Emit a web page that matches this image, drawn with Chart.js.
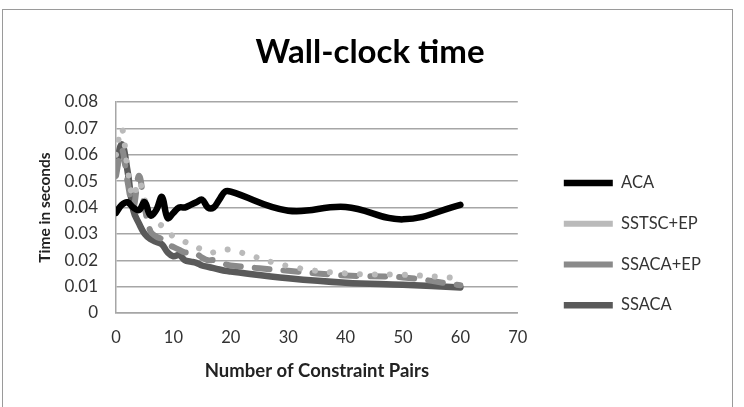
<!DOCTYPE html>
<html>
<head>
<meta charset="utf-8">
<script src="https://cdn.jsdelivr.net/npm/chart.js@4"></script>
<style>
  body { margin: 0; background: #fff; }
  .frame { position: absolute; left: 2px; top: 9px; width: 729px; height: 420px; border: 1.5px solid #9a9a9a; }
  #wallClockChart { position: absolute; left: 0; top: 0; }
</style>
</head>
<body>
<div class="frame"></div>
<canvas id="wallClockChart" width="744" height="407"></canvas>
<script>
// number of constraint pairs (x)
const pairs = [0, 1, 2, 3, 4, 5, 6, 7, 8, 9, 10, 11, 12, 13, 14, 15, 16, 17, 18, 19, 20, 30, 40, 50, 60];

// time in seconds
const aca      = [0.038, 0.041, 0.042, 0.040, 0.039, 0.042, 0.037, 0.039, 0.044, 0.036, 0.038, 0.040, 0.040, 0.041, 0.042, 0.043, 0.040, 0.040, 0.043, 0.046, 0.046, 0.0388, 0.0402, 0.0355, 0.041];
const sstscEp  = [0.060, 0.070, 0.055, 0.044, 0.050, 0.043, 0.038, 0.035, 0.033, 0.031, 0.029, 0.028, 0.027, 0.026, 0.025, 0.024, 0.023, 0.023, 0.024, 0.024, 0.024, 0.0178, 0.0150, 0.0145, 0.0132];
const ssacaEp  = [0.052, 0.062, 0.050, 0.040, 0.052, 0.040, 0.031, 0.029, 0.028, 0.026, 0.025, 0.024, 0.023, 0.023, 0.0225, 0.021, 0.020, 0.020, 0.019, 0.0185, 0.018, 0.0160, 0.0142, 0.0135, 0.0105];
const ssaca    = [0.054, 0.064, 0.054, 0.039, 0.034, 0.030, 0.028, 0.027, 0.026, 0.023, 0.0215, 0.022, 0.020, 0.0195, 0.019, 0.018, 0.0175, 0.017, 0.0165, 0.016, 0.0157, 0.0132, 0.0115, 0.0107, 0.0097];

const xTickLabels = ['0', '10', '20', '30', '40', '50', '60', '70'];
const yTickLabels = ['0', '0.01', '0.02', '0.03', '0.04', '0.05', '0.06', '0.07', '0.08'];

const toPoints = ys => ys.map((y, i) => ({ x: pairs[i], y: y }));

const FONT = 'Lato, "Open Sans", sans-serif';
const GRID = '#a6a6a6';

const ctx = document.getElementById('wallClockChart').getContext('2d');
new Chart(ctx, {
    type: 'line',
    data: {
        datasets: [{
            label: 'ACA',
            data: toPoints(aca),
            borderColor: '#000000',
            borderWidth: 6.5
        }, {
            label: 'SSTSC+EP',
            data: toPoints(sstscEp),
            borderColor: '#bababa',
            borderWidth: 6,
            borderDash: [0.01, 15]
        }, {
            label: 'SSACA+EP',
            data: toPoints(ssacaEp),
            borderColor: '#8a8a8a',
            borderWidth: 6,
            borderDash: [15, 14]
        }, {
            label: 'SSACA',
            data: toPoints(ssaca),
            borderColor: '#5a5a5a',
            borderWidth: 6.5
        }]
    },
    options: {
        responsive: false,
        animation: false,
        devicePixelRatio: 1,
        datasets: {
            line: {
                tension: 0.4,
                pointRadius: 0,
                borderCapStyle: 'round',
                borderJoinStyle: 'round',
                fill: false
            }
        },
        layout: {
            padding: { top: 10, left: 29.2, right: 33.2, bottom: 24 }
        },
        plugins: {
            title: {
                display: true,
                text: 'Wall-clock time',
                color: '#000',
                font: { family: FONT, size: 33, weight: 'bold' },
                padding: { top: 22.2, bottom: 30.2 }
            },
            legend: {
                position: 'right',
                align: 'start',
                maxWidth: 220,
                title: {
                    display: true,
                    text: '',
                    font: { family: FONT, size: 13 },
                    padding: { top: 62.5, bottom: 62.5 }
                },
                labels: {
                    usePointStyle: true,
                    pointStyle: 'line',
                    pointStyleWidth: 49,
                    padding: 24.2,
                    color: '#333',
                    font: { family: FONT, size: 16.5 }
                }
            },
            tooltip: { enabled: false }
        },
        scales: {
            x: {
                type: 'linear',
                min: 0,
                max: 70,
                grid: { display: false, drawTicks: false },
                border: { display: true, color: GRID, width: 1.5 },
                ticks: {
                    stepSize: 10,
                    padding: 14.4,
                    color: '#333',
                    font: { family: FONT, size: 16.5 },
                    callback: (v, i) => xTickLabels[i]
                },
                title: {
                    display: true,
                    text: 'Number of Constraint Pairs',
                    color: '#222',
                    font: { family: FONT, size: 18.5, weight: 'bold' },
                    padding: { top: 10, bottom: 1 }
                },
                afterFit: s => { s.height = 70; }
            },
            y: {
                min: 0,
                max: 0.08,
                grid: { color: GRID, lineWidth: 1.5, drawTicks: false },
                border: { display: true, color: GRID, width: 1.5 },
                ticks: {
                    stepSize: 0.01,
                    padding: 18,
                    color: '#333',
                    font: { family: FONT, size: 17 },
                    callback: (v, i) => yTickLabels[i]
                },
                title: {
                    display: true,
                    text: 'Time in seconds',
                    color: '#222',
                    font: { family: FONT, size: 15.5, weight: 'bold' },
                    padding: { top: 6.5, bottom: 4 }
                },
                afterFit: s => { s.width = 86.8; }
            },
            gap: {
                type: 'linear',
                position: 'right',
                display: true,
                grid: { display: false, drawTicks: false },
                border: { display: false },
                ticks: { display: false },
                afterFit: s => { s.width = 21.8; }
            }
        }
    }
});
</script>
</body>
</html>
